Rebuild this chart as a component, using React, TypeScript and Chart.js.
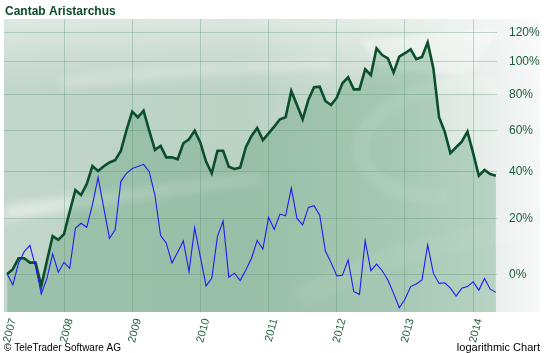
import React, { useEffect, useRef } from 'react';
import { Chart, registerables } from 'chart.js';

Chart.register(...registerables);

const chartTitle = 'Cantab Aristarchus';
const footerLeft = '\u00A9 TeleTrader Software AG';
const footerRight = 'logarithmic Chart';

// x = months since Jan 2007 (monthly observations, Mar 2007 .. May 2014)
const firstMonth = 2;
const yearLabels = ['2007', '2008', '2009', '2010', '2011', '2012', '2013', '2014'];
const yearTickMonths = [2, 12, 24, 36, 48, 60, 72, 84];
const yTickPct = [0, 20, 40, 60, 80, 100, 120];

// performance in % (dark green, filled)
const fundPct = [
  0.3, 1.9, 5.6, 5.6, 4.1, 4.1, -3.5, 4.7, 13.5, 12.1,
  14.2, 22.9, 31.8, 29.7, 34.4, 42.5, 40.2, 42.4, 44.2, 45.3,
  49.7, 60.2, 70.1, 67.0, 70.6, 59.9, 50.2, 52.1, 46.6, 46.6,
  45.7, 53.5, 55.5, 59.9, 53.8, 44.6, 39.2, 49.8, 49.8, 42.2,
  41.2, 41.8, 51.5, 57.2, 61.3, 55.1, 58.5, 62.0, 65.9, 67.0,
  81.9, 73.8, 65.9, 76.7, 84.1, 84.5, 76.1, 73.8, 78.0, 86.5,
  90.2, 82.9, 82.9, 95.2, 91.6, 109.0, 104.5, 102.3, 93.1, 103.4,
  105.7, 108.3, 101.7, 103.2, 113.0, 95.9, 67.0, 59.4, 48.6, 51.5,
  54.3, 59.4, 48.6, 38.1, 40.7, 38.9, 38.1,
];

// comparison in % (blue line)
const benchPct = [
  0.3, -3.2, 3.9, 7.9, 10.1, 2.7, -6.0, -1.1, 7.1, 0.9,
  4.2, 2.2, 16.4, 18.3, 16.8, 25.6, 37.4, 24.3, 12.7, 15.8,
  35.5, 39.2, 41.4, 42.3, 43.3, 39.9, 29.7, 13.7, 10.9, 4.0,
  7.7, 11.7, 1.1, 16.6, 6.1, -3.5, -1.1, 13.3, 19.2, -0.7,
  0.6, -1.8, 1.6, 5.6, 11.9, 8.8, 20.6, 16.0, 21.9, 21.2,
  32.6, 20.2, 17.7, 24.6, 25.3, 21.5, 8.1, 4.1, -0.3, -0.1,
  5.0, -5.3, -6.1, 11.8, 1.4, 3.6, 1.4, -1.6, -5.8, -10.1,
  -7.6, -3.7, -2.9, -1.6, 10.3, 0.6, -2.7, -2.5, -4.2, -6.6,
  -4.2, -3.7, -2.2, -4.8, -1.1, -4.5, -5.5,
];

const toPoints = (arr: number[]) => arr.map((p, i) => ({ x: firstMonth + i, y: 1 + p / 100 }));

const GRID = 'rgba(95,150,120,0.35)';
const TICK_COLOR = '#1b5c3a';

const backgroundPlugin = {
  id: 'ttBackground',
  beforeDraw(chart: any) {
    const { ctx, chartArea: a } = chart;
    const L = a.left;
    const T = a.top;
    const R = 540;
    const B = a.bottom;
    ctx.save();
    const g = ctx.createLinearGradient(L, 0, R, 0);
    g.addColorStop(0, '#c2d6cb');
    g.addColorStop(0.45, '#bcd2c5');
    g.addColorStop(0.75, '#d3e1d9');
    g.addColorStop(0.92, '#eaf0ed');
    g.addColorStop(1, '#f7f9f8');
    ctx.fillStyle = g;
    ctx.fillRect(L, T, R - L, B - T);

    // top haze
    const v = ctx.createLinearGradient(0, T, 0, T + 70);
    v.addColorStop(0, 'rgba(255,255,255,0.45)');
    v.addColorStop(1, 'rgba(255,255,255,0)');
    ctx.fillStyle = v;
    ctx.fillRect(L, T, R - L, 70);

    ctx.beginPath();
    ctx.rect(L, T, R - L, B - T);
    ctx.clip();

    // soft white streaks
    ctx.filter = 'blur(5px)';
    ctx.fillStyle = 'rgba(255,255,255,0.45)';
    ctx.beginPath();
    ctx.moveTo(L, 205);
    ctx.quadraticCurveTo(120, 190, 260, 175);
    ctx.lineTo(260, 182);
    ctx.quadraticCurveTo(120, 200, L, 222);
    ctx.closePath();
    ctx.fill();

    ctx.fillStyle = 'rgba(255,255,255,0.3)';
    ctx.beginPath();
    ctx.moveTo(60, 78);
    ctx.quadraticCurveTo(200, 62, 330, 60);
    ctx.lineTo(330, 68);
    ctx.quadraticCurveTo(200, 72, 60, 88);
    ctx.closePath();
    ctx.fill();

    // logo swoosh on the right
    ctx.filter = 'blur(2px)';
    ctx.strokeStyle = 'rgba(255,255,255,0.18)';
    ctx.lineWidth = 16;
    ctx.beginPath();
    ctx.ellipse(455, 140, 95, 55, -0.15, Math.PI * 0.55, Math.PI * 1.75);
    ctx.stroke();
    ctx.strokeStyle = 'rgba(255,255,255,0.14)';
    ctx.lineWidth = 22;
    ctx.beginPath();
    ctx.moveTo(300, 300);
    ctx.quadraticCurveTo(380, 250, 520, 230);
    ctx.stroke();
    ctx.fillStyle = 'rgba(255,255,255,0.35)';
    ctx.beginPath();
    ctx.moveTo(360, 40);
    ctx.lineTo(500, 28);
    ctx.lineTo(470, 75);
    ctx.lineTo(380, 70);
    ctx.closePath();
    ctx.fill();
    ctx.filter = 'none';
    ctx.restore();
  },
};

const textPlugin = {
  id: 'ttTexts',
  afterDraw(chart: any) {
    const { ctx } = chart;
    ctx.save();
    ctx.fillStyle = '#0c4b2b';
    ctx.font = 'bold 12px "Liberation Sans", Arial, sans-serif';
    ctx.textAlign = 'left';
    ctx.textBaseline = 'alphabetic';
    ctx.fillText(chartTitle, 5, 15);
    ctx.fillStyle = '#000000';
    ctx.font = '10px "Liberation Sans", Arial, sans-serif';
    ctx.fillText(footerLeft, 4, 351);
    ctx.font = '11px "Liberation Sans", Arial, sans-serif';
    ctx.textAlign = 'right';
    ctx.fillText(footerRight, 540, 351);
    ctx.restore();
  },
};

export default function App() {
  const ref = useRef<HTMLCanvasElement>(null);
  useEffect(() => {
    document.body.style.margin = '0';
    const chart = new Chart(ref.current as HTMLCanvasElement, {
      type: 'line',
      data: {
        datasets: [
          {
            label: 'Benchmark',
            data: toPoints(benchPct),
            borderColor: '#1c1cf5',
            borderWidth: 1.1,
            pointRadius: 0,
            fill: false,
            tension: 0,
          },
          {
            label: chartTitle,
            data: toPoints(fundPct),
            borderColor: '#0b4e2d',
            borderWidth: 2.6,
            pointRadius: 0,
            fill: 'start',
            backgroundColor: 'rgba(70,145,100,0.3)',
            tension: 0,
          },
        ],
      },
      options: {
        animation: false,
        responsive: false,
        parsing: true,
        layout: { padding: { top: 19, left: 4, right: 0, bottom: 0 } },
        plugins: { legend: { display: false }, tooltip: { enabled: false }, title: { display: false } },
        scales: {
          x: {
            type: 'linear',
            min: 1.44,
            max: 88.2,
            afterBuildTicks: (scale: any) => {
              scale.ticks = yearTickMonths.map((v) => ({ value: v }));
            },
            afterFit: (scale: any) => {
              scale.height = 41;
              scale.paddingLeft = 0;
              scale.paddingRight = 0;
            },
            grid: {
              color: (c: any) => (c.tick && c.tick.value === yearTickMonths[0] ? 'rgba(0,0,0,0)' : GRID),
              drawTicks: false,
            },
            border: { display: false },
            ticks: {
              autoSkip: false,
              minRotation: 75,
              maxRotation: 75,
              padding: 5,
              labelOffset: 6,
              color: TICK_COLOR,
              font: { family: '"Liberation Sans", Arial, sans-serif', size: 11 },
              callback: (value: any) => {
                const i = yearTickMonths.indexOf(Number(value));
                return i >= 0 ? yearLabels[i] : '';
              },
            },
          },
          y: {
            type: 'logarithmic',
            position: 'right',
            min: 0.8866,
            max: 2.299,
            afterBuildTicks: (scale: any) => {
              scale.ticks = yTickPct.map((p) => ({ value: 1 + p / 100 }));
            },
            afterFit: (scale: any) => {
              scale.width = 47;
              scale.paddingTop = 0;
              scale.paddingBottom = 0;
            },
            grid: { color: GRID, drawTicks: false },
            border: { display: false },
            ticks: {
              padding: 12,
              color: TICK_COLOR,
              font: { family: '"Liberation Sans", Arial, sans-serif', size: 12 },
              callback: (value: any) => Math.round((Number(value) - 1) * 100) + '%',
            },
          },
        },
      },
      plugins: [backgroundPlugin, textPlugin],
    });
    return () => chart.destroy();
  }, []);
  return (
    <div style={{ position: 'absolute', left: 0, top: 0, width: 544, height: 353, background: '#ffffff' }}>
      <canvas ref={ref} width={544} height={353} style={{ display: 'block' }} />
    </div>
  );
}
